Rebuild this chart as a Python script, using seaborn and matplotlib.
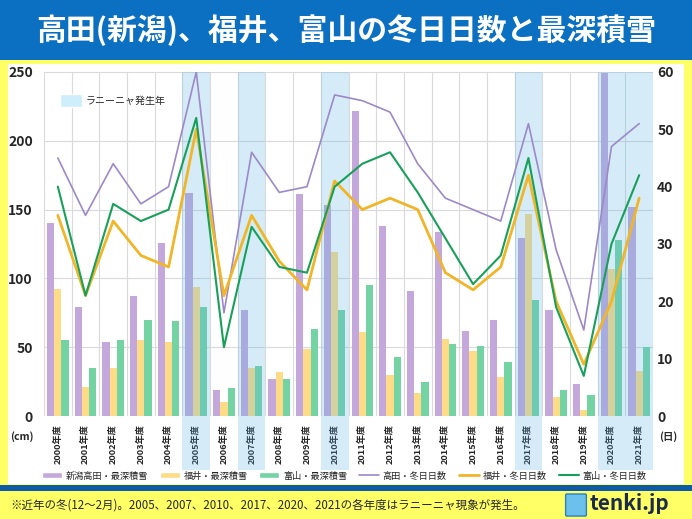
import numpy as np
import pandas as pd
import seaborn as sns
import matplotlib.pyplot as plt
import matplotlib.transforms as mtransforms
from matplotlib.patches import Rectangle, Patch, FancyBboxPatch
from matplotlib.lines import Line2D

# data
years = [f"{y}年度" for y in range(2000, 2022)]
lanina_years = ["2005年度", "2007年度", "2010年度", "2017年度", "2020年度", "2021年度"]

# deepest snow (cm)
takada_snow = [140, 79, 54, 87, 126, 162, 19, 77, 27, 161, 153, 222, 138, 91, 134, 62, 70, 129, 77, 23, 249, 152]
fukui_snow = [92, 21, 35, 55, 54, 94, 10, 35, 32, 49, 119, 61, 30, 17, 56, 47, 28, 147, 14, 4, 107, 33]
toyama_snow = [55, 35, 55, 70, 69, 79, 20, 36, 27, 63, 77, 95, 43, 25, 52, 51, 39, 84, 19, 15, 128, 50]

# number of winter days (days)
takada_days = [45, 35, 44, 37, 40, 60, 18, 46, 39, 40, 56, 55, 53, 44, 38, 36, 34, 51, 29, 15, 47, 51]
fukui_days = [35, 21, 34, 28, 26, 50, 21, 35, 27, 22, 41, 36, 38, 36, 25, 22, 26, 42, 20, 9, 20, 38]
toyama_days = [40, 21, 37, 34, 36, 52, 12, 33, 26, 25, 40, 44, 46, 39, 31, 23, 28, 45, 19, 7, 30, 42]

bar_names = ["新潟高田・最深積雪", "福井・最深積雪", "富山・最深積雪"]
line_names = ["高田・冬日日数", "福井・冬日日数", "富山・冬日日数"]
bar_colors = ["#c4a8dc", "#fddb87", "#74d3a3"]
line_colors = ["#9d88c8", "#f0b627", "#18a05a"]

title = "高田(新潟)、福井、富山の冬日日数と最深積雪"
note = "※近年の冬(12～2月)。2005、2007、2010、2017、2020、2021の各年度はラニーニャ現象が発生。"

sns.set_style("white")
plt.rcParams['font.family'] = ['Noto Sans CJK JP', 'DejaVu Sans']

W, H = 692, 519
fig = plt.figure(figsize=(W / 100, H / 100), dpi=100, facecolor='#ffff66')


def box(x0, y0, x1, y1, color):
    # rectangle in pixel coords measured from the top left
    fig.add_artist(Rectangle((x0 / W, 1 - y1 / H), (x1 - x0) / W, (y1 - y0) / H,
                             transform=fig.transFigure, facecolor=color,
                             edgecolor='none', zorder=-1))


box(0, 0, W, 60, '#0b6fc2')
box(8, 64, 684, 484, 'white')
box(0, 485, W, 491, '#0e5aa7')

fig.text(0.5, 1 - 30 / H, title, color='white', fontsize=21.5, weight='bold',
         ha='center', va='center')

ax = fig.add_axes([44 / W, 103 / H, 609 / W, 344 / H])
ax.patch.set_alpha(0)

snow = pd.DataFrame({
    'year': years * 3,
    'city': [bar_names[0]] * 22 + [bar_names[1]] * 22 + [bar_names[2]] * 22,
    'cm': takada_snow + fukui_snow + toyama_snow,
})
sns.barplot(data=snow, x='year', y='cm', hue='city', palette=bar_colors,
            width=0.78, linewidth=0, saturation=1, legend=False, ax=ax, zorder=2)

ax.set_xlim(-0.5, 21.5)
ax.set_ylim(0, 250)
ax.set_yticks(range(0, 251, 50))
ax.set_xticks(np.arange(-0.5, 22, 1), minor=True)
ax.set_axisbelow(True)
ax.grid(axis='y', color='#dadada', lw=0.8)
ax.grid(axis='x', which='minor', color='#dadada', lw=0.8)
ax.set_xlabel('')
ax.set_ylabel('')
for s in ax.spines.values():
    s.set_visible(False)
ax.tick_params(axis='y', length=0, pad=8, labelsize=10)
ax.tick_params(axis='x', which='both', length=0, pad=6, labelsize=6.6, labelrotation=90)
for t in ax.get_yticklabels():
    t.set_fontweight('bold')
for t in ax.get_xticklabels():
    t.set_fontweight('bold')

# La Nina years shading, reaching down behind the tick labels
trans = mtransforms.blended_transform_factory(ax.transData, ax.transAxes)
for i, y in enumerate(years):
    if y in lanina_years:
        ax.add_patch(Rectangle((i - 0.5, -0.157), 1, 1.157, transform=trans,
                               clip_on=False, facecolor='#5ab4e6', alpha=0.25,
                               lw=0, zorder=3))

ax2 = ax.twinx()
xpos = np.arange(len(years))
sns.lineplot(x=xpos, y=takada_days, color=line_colors[0], lw=1.2, ax=ax2)
sns.lineplot(x=xpos, y=fukui_days, color=line_colors[1], lw=2.0, ax=ax2)
sns.lineplot(x=xpos, y=toyama_days, color=line_colors[2], lw=1.5, ax=ax2)
ax2.set_ylim(0, 60)
ax2.set_yticks(range(0, 61, 10))
ax2.grid(False)
for s in ax2.spines.values():
    s.set_visible(False)
ax2.tick_params(axis='y', length=0, pad=3, labelsize=10)
for t in ax2.get_yticklabels():
    t.set_fontweight('bold')

ax2.legend(handles=[Patch(facecolor='#cdeefa')], labels=['ラニーニャ発生年'],
           loc='upper left', bbox_to_anchor=(55 / W, 1 - 89 / H),
           bbox_transform=fig.transFigure, frameon=False, borderpad=0,
           fontsize=7.2, handlelength=2.2, handleheight=1.6, handletextpad=0.4)

fig.text(22 / W, 1 - 437 / H, '(cm)', fontsize=7.5, weight='bold', ha='center', va='center')
fig.text(668 / W, 1 - 437 / H, '(日)', fontsize=7.5, weight='bold', ha='center', va='center')

handles = [Patch(facecolor=c) for c in bar_colors]
handles += [Line2D([], [], color=line_colors[0], lw=1.2),
            Line2D([], [], color=line_colors[1], lw=2.0),
            Line2D([], [], color=line_colors[2], lw=1.5)]
fig.legend(handles, bar_names + line_names, loc='center', bbox_to_anchor=(0.497, 1 - 476 / H),
           ncol=6, frameon=False, fontsize=6.6, handlelength=2.2, handleheight=0.6,
           columnspacing=1.3, handletextpad=0.4)

fig.text(10 / W, 1 - 505 / H, note, fontsize=8.3, va='center')
fig.add_artist(FancyBboxPatch((567 / W, 1 - 515 / H), 18 / W, 20 / H,
                              boxstyle='round,pad=0.002', transform=fig.transFigure,
                              facecolor='#6cc0ec', edgecolor='#2a7fc0', lw=1))
fig.text(590 / W, 1 - 504 / H, 'tenki.jp', fontsize=15, weight='bold',
         color='#1c2b4a', va='center')

fig.savefig('out.png', dpi=100, facecolor=fig.get_facecolor())
